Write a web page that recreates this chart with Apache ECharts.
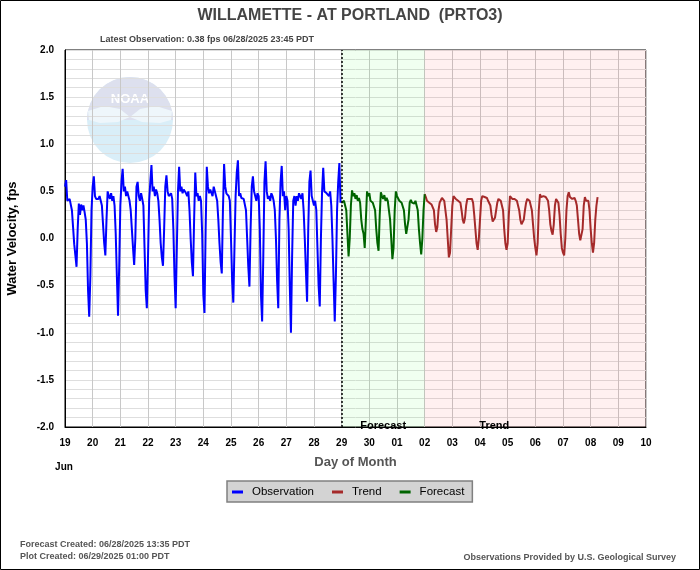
<!DOCTYPE html>
<html><head><meta charset="utf-8">
<script src="https://cdn.jsdelivr.net/npm/echarts@6/dist/echarts.min.js"></script>
<style>html,body{margin:0;padding:0;background:#fff}#c{width:700px;height:570px}</style>
</head><body><div id="c"></div>
<script>
// Day-of-month tick labels (one every 24 h starting 19 Jun 00:00)
const dayLabels = ['19','20','21','22','23','24','25','26','27','28','29','30','01','02','03','04','05','06','07','08','09','10'];

// Hourly series (hours since 19 Jun 00:00)
const obsStartHour = 0;
const obsValues = [
 0.55,0.62,0.40,0.38,0.42,0.40,0.30,0.12,-0.06,-0.18,-0.30,0.10,0.37,0.25,0.36,0.30,0.35,0.28,0.20,-0.05,-0.55,-0.83,-0.40,0.30,
 0.55,0.66,0.45,0.42,0.44,0.42,0.45,0.40,0.35,0.15,-0.05,-0.18,0.20,0.50,0.45,0.42,0.48,0.40,0.45,0.35,0.05,-0.40,-0.82,-0.30,
 0.35,0.60,0.74,0.50,0.55,0.45,0.50,0.48,0.40,0.30,0.10,-0.10,-0.28,0.00,0.55,0.60,0.45,0.40,0.48,0.42,0.35,-0.10,-0.55,-0.74,
 -0.20,0.40,0.60,0.78,0.50,0.55,0.45,0.52,0.48,0.40,0.20,-0.05,-0.20,-0.29,0.10,0.55,0.67,0.50,0.45,0.47,0.48,0.42,0.10,-0.40,
 -0.74,-0.10,0.50,0.76,0.50,0.55,0.48,0.52,0.50,0.48,0.45,0.50,0.30,0.00,-0.25,-0.40,0.20,0.70,0.45,0.48,0.40,0.45,0.40,0.05,
 -0.60,-0.79,0.10,0.76,0.55,0.48,0.52,0.50,0.45,0.55,0.50,0.48,0.40,0.20,-0.05,-0.25,-0.37,0.30,0.79,0.55,0.48,0.50,0.45,0.40,
 0.00,-0.45,-0.68,-0.10,0.45,0.70,0.83,0.45,0.48,0.43,0.45,0.42,0.44,0.30,0.00,-0.30,-0.51,0.10,0.55,0.66,0.50,0.45,0.40,0.48,
 0.45,0.10,-0.60,-0.88,-0.20,0.60,0.82,0.50,0.42,0.45,0.40,0.48,0.45,0.40,0.30,0.00,-0.45,-0.74,0.20,0.60,0.77,0.45,0.50,0.30,
 0.45,0.40,0.10,-0.50,-1.00,-0.20,0.40,0.45,0.35,0.45,0.40,0.48,0.45,0.42,0.48,0.30,0.00,-0.35,-0.67,0.10,0.60,0.72,0.45,0.40,
 0.35,0.40,0.30,-0.10,-0.50,-0.72,0.00,0.50,0.75,0.50,0.52,0.48,0.50,0.45,0.50,0.35,0.00,-0.45,-0.88,-0.40,0.30,0.60,0.80,0.38
];
const forecastStartHour = 240;
const forecastValues = [
 0.38,0.39,0.40,0.41,0.30,0.05,-0.19,0.00,
 0.35,0.51,0.45,0.48,0.42,0.46,0.40,0.43,
 0.38,0.20,0.10,0.05,-0.10,0.20,0.50,0.45,
 0.48,0.40,0.42,0.38,0.40,0.30,0.10,-0.05,
 -0.13,0.25,0.49,0.45,0.42,0.46,0.40,0.43,
 0.40,0.38,0.20,0.00,-0.22,-0.10,0.30,0.50,
 0.45,0.47,0.40,0.42,0.38,0.40,0.30,0.15,
 0.05,0.04,0.20,0.38,0.41,0.38,0.40,0.37,
 0.40,0.38,0.30,0.10,-0.05,-0.17,0.00,0.30,
 0.47
];
const trendStartHour = 312;
const trendValues = [
 0.47,0.44,0.40,0.42,0.38,0.40,0.36,0.37,
 0.30,0.15,0.07,0.12,0.30,0.38,0.40,0.43,
 0.42,0.40,0.38,0.20,0.00,-0.20,-0.15,0.10,
 0.35,0.45,0.47,0.42,0.44,0.40,0.42,0.38,
 0.30,0.20,0.16,0.22,0.35,0.42,0.44,0.42,
 0.40,0.42,0.38,0.25,0.10,-0.05,-0.12,0.00,
 0.20,0.40,0.45,0.43,0.44,0.42,0.43,0.40,
 0.41,0.35,0.25,0.18,0.16,0.22,0.30,0.38,
 0.42,0.43,0.40,0.38,0.30,0.10,-0.05,-0.12,
 -0.05,0.25,0.45,0.43,0.42,0.44,0.42,0.43,
 0.40,0.38,0.30,0.20,0.15,0.13,0.20,0.30,
 0.38,0.42,0.43,0.40,0.38,0.30,0.15,0.00,
 -0.10,-0.18,-0.05,0.30,0.47,0.44,0.43,0.45,
 0.43,0.44,0.42,0.40,0.30,0.15,0.08,0.04,
 0.15,0.35,0.42,0.40,0.38,0.25,0.05,-0.10,
 -0.15,-0.18,0.00,0.30,0.45,0.49,0.44,0.45,
 0.42,0.44,0.43,0.40,0.35,0.20,0.05,-0.02,
 -0.03,0.10,0.35,0.44,0.40,0.38,0.40,0.30,
 0.10,-0.05,-0.15,-0.05,0.20,0.35,0.44
];
const forecastRegion = [240, 312];
const trendRegion = [312, 504];
const lastObsHour = 240;

const toPairs = (start, vals) => vals.map((v, i) => [start + i, v]);
const FF = '"Liberation Sans", Arial, sans-serif';

const chart = echarts.init(document.getElementById('c'), null, {renderer: 'canvas'});
chart.setOption({
  animation: false,
  backgroundColor: '#fff',
  title: {
    text: 'WILLAMETTE - AT PORTLAND  (PRTO3)',
    left: 'center', top: 3,
    textStyle: {fontFamily: FF, fontSize: 16, fontWeight: 'bold', color: '#444'}
  },
  legend: {
    data: ['Observation', 'Trend', 'Forecast'],
    left: 227, top: 481,
    backgroundColor: '#d3d3d3', borderColor: '#808080', borderWidth: 1.5,
    padding: [5, 8, 4, 5],
    itemWidth: 11, itemHeight: 3, itemGap: 18, icon: 'rect',
    textStyle: {fontFamily: FF, fontSize: 11.5, color: '#000', padding: [0, 0, 0, 4]}
  },
  grid: {left: 65, right: 54, top: 50, bottom: 143, show: true, borderColor: '#000', borderWidth: 1,
    containLabel: false, outerBoundsMode: 'none'},
  xAxis: {
    type: 'value', min: 0, max: 504, interval: 24,
    axisLine: {show: true, onZero: false, lineStyle: {color: '#000'}},
    axisTick: {show: false},
    axisLabel: {formatter: v => dayLabels[Math.round(v / 24)], fontFamily: FF, fontSize: 10, fontWeight: 'bold', color: '#000', margin: 11},
    splitLine: {show: true, lineStyle: {color: '#c8c8c8', width: 1}},
    name: 'Day of Month', nameLocation: 'middle', nameGap: 29,
    nameTextStyle: {fontFamily: FF, fontSize: 13, fontWeight: 'bold', color: '#555'}
  },
  yAxis: {
    type: 'value', min: -2, max: 2, interval: 0.5,
    axisLine: {show: true, lineStyle: {color: '#000'}},
    axisTick: {show: false},
    axisLabel: {formatter: v => v.toFixed(1), fontFamily: FF, fontSize: 10, fontWeight: 'bold', color: '#000', margin: 11},
    splitLine: {show: true, lineStyle: {color: '#dedede', width: 1}},
    minorTick: {show: false, splitNumber: 5},
    minorSplitLine: {show: true, lineStyle: {color: '#dedede', width: 1}},
    name: 'Water Velocity, fps', nameLocation: 'middle', nameGap: 46,
    nameTextStyle: {fontFamily: FF, fontSize: 13, fontWeight: 'bold', color: '#000'}
  },
  series: [
    {
      name: 'Observation', type: 'line', showSymbol: false, z: 3,
      data: toPairs(obsStartHour, obsValues),
      lineStyle: {color: '#0000ff', width: 2}, itemStyle: {color: '#0000ff'},
      markLine: {
        silent: true, symbol: ['none', 'none'], label: {show: false},
        lineStyle: {type: [2, 2], color: '#000', width: 1.5},
        data: [{xAxis: lastObsHour}]
      }
    },
    {
      name: 'Trend', type: 'line', showSymbol: false, z: 3,
      data: toPairs(trendStartHour, trendValues),
      lineStyle: {color: '#a52a2a', width: 2}, itemStyle: {color: '#a52a2a'}
    },
    {
      name: 'Forecast', type: 'line', showSymbol: false, z: 3,
      data: toPairs(forecastStartHour, forecastValues),
      lineStyle: {color: '#006400', width: 2}, itemStyle: {color: '#006400'},
      markArea: {
        silent: true, z: 1,
        data: [
          [{xAxis: forecastRegion[0], itemStyle: {color: 'rgba(0,255,0,0.06)'},
            label: {show: true, formatter: 'Forecast', position: 'insideBottom', distance: 0, offset: [0, 4],
              fontFamily: FF, fontSize: 11, fontWeight: 'bold', color: '#000'}},
           {xAxis: forecastRegion[1]}],
          [{xAxis: trendRegion[0], itemStyle: {color: 'rgba(255,0,0,0.06)'},
            label: {show: true, formatter: 'Trend', position: 'insideBottom', distance: 0, offset: [-41, 4],
              fontFamily: FF, fontSize: 11, fontWeight: 'bold', color: '#000'}},
           {xAxis: trendRegion[1]}]
        ]
      }
    }
  ],
  graphic: [
    {type: 'rect', z: 10, silent: true, shape: {x: 0.5, y: 0.5, width: 699, height: 569}, style: {fill: 'none', stroke: '#000', lineWidth: 1}},
    {type: 'circle', z: -1, silent: true, shape: {cx: 130, cy: 120, r: 43}, style: {fill: '#d9eef8'}},
    {type: 'sector', z: -1, silent: true, shape: {cx: 130, cy: 120, r: 43, r0: 0, startAngle: Math.PI, endAngle: 2 * Math.PI}, style: {fill: '#dde0ee'}},
    {type: 'polygon', z: -1, silent: true, shape: {points: [[88,111],[104,106],[120,109],[130,117],[118,122],[100,123],[89,120]]}, style: {fill: '#eef6fb'}},
    {type: 'polygon', z: -1, silent: true, shape: {points: [[172,111],[156,106],[140,109],[130,117],[142,122],[160,123],[171,120]]}, style: {fill: '#eef6fb'}},
    {type: 'text', z: -1, silent: true, style: {text: 'NOAA', x: 130, y: 99, align: 'center', verticalAlign: 'middle', fill: '#fff', font: 'bold 13px "Liberation Sans", Arial, sans-serif'}},
    {type: 'text', silent: true, style: {text: 'Latest Observation: 0.38 fps 06/28/2025 23:45 PDT', x: 100, y: 40, verticalAlign: 'middle', fill: '#444', font: 'bold 9px "Liberation Sans", Arial, sans-serif'}},
    {type: 'text', silent: true, style: {text: 'Jun', x: 64, y: 467, align: 'center', verticalAlign: 'middle', fill: '#000', font: 'bold 10px "Liberation Sans", Arial, sans-serif'}},
    {type: 'text', silent: true, style: {text: 'Forecast Created: 06/28/2025 13:35 PDT', x: 20, y: 545, verticalAlign: 'middle', fill: '#555', font: 'bold 9px "Liberation Sans", Arial, sans-serif'}},
    {type: 'text', silent: true, style: {text: 'Plot Created: 06/29/2025 01:00 PDT', x: 20, y: 557, verticalAlign: 'middle', fill: '#555', font: 'bold 9px "Liberation Sans", Arial, sans-serif'}},
    {type: 'text', silent: true, style: {text: 'Observations Provided by U.S. Geological Survey', x: 676, y: 558, align: 'right', verticalAlign: 'middle', fill: '#555', font: 'bold 9px "Liberation Sans", Arial, sans-serif'}}
  ]
});
</script>
</body></html>
